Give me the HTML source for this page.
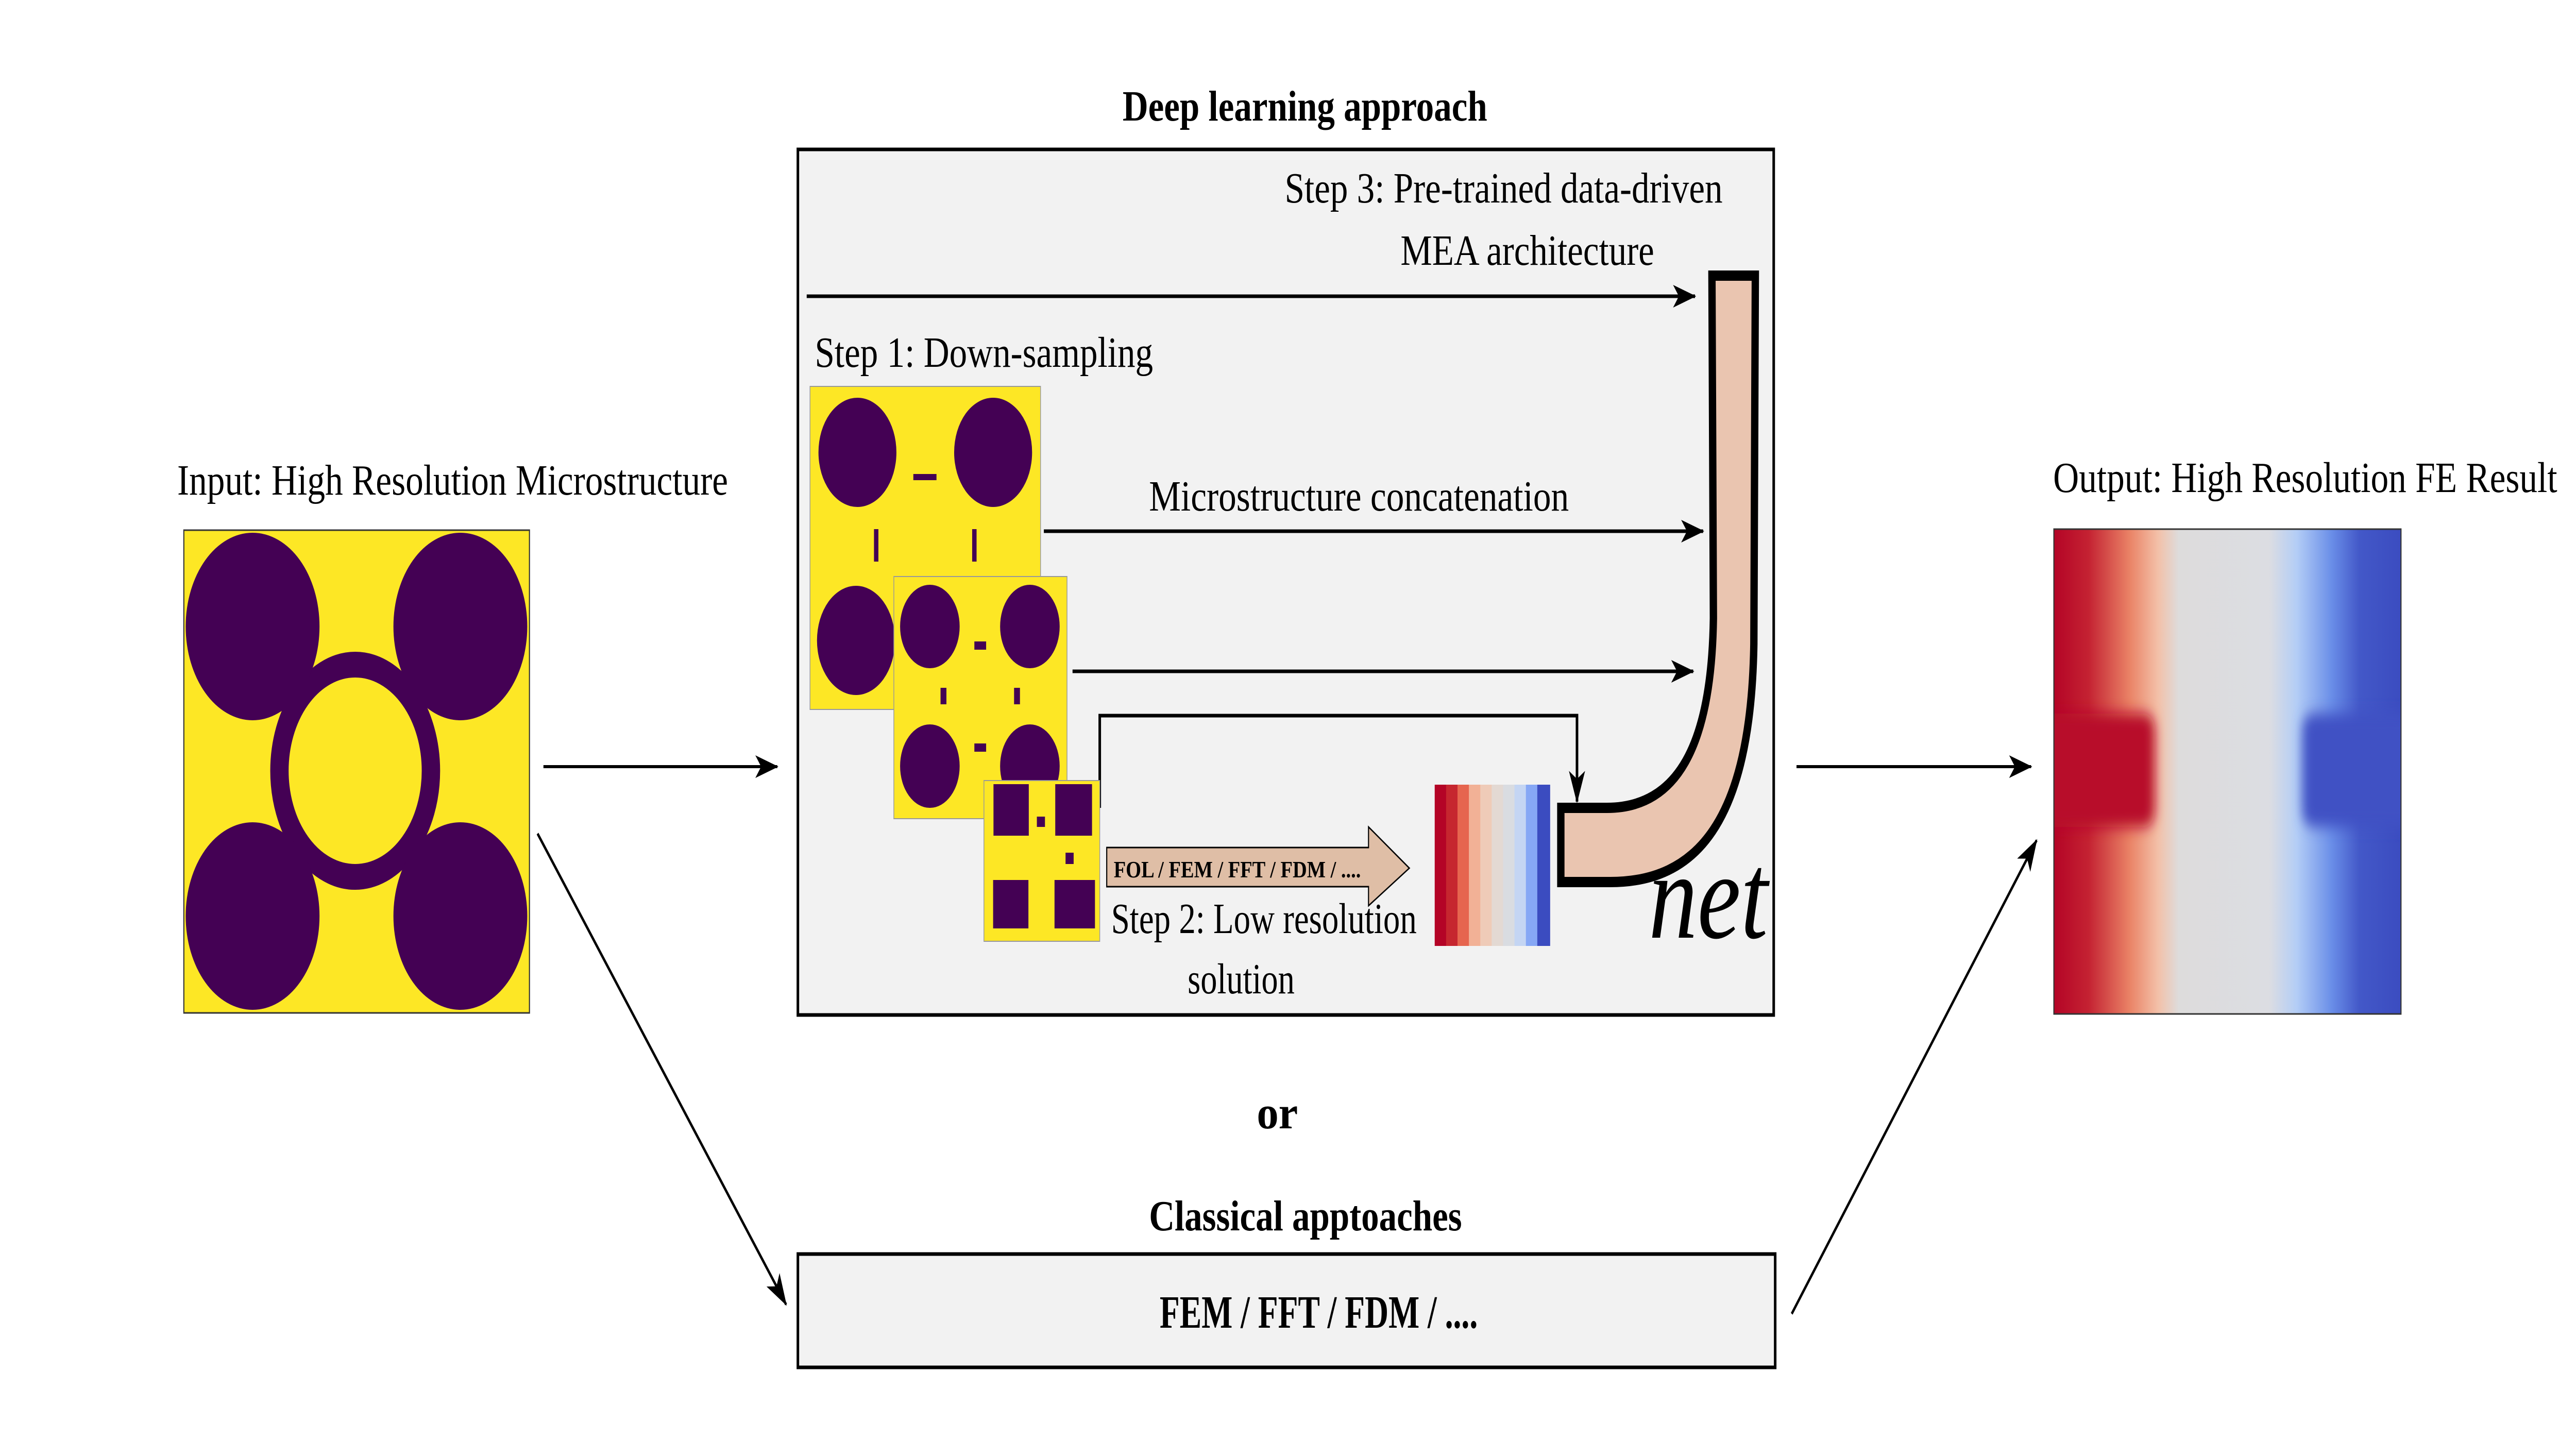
<!DOCTYPE html>
<html><head><meta charset="utf-8"><style>html,body{margin:0;padding:0;background:#fff;width:100%;height:100%;overflow:hidden}svg{display:block;position:absolute;left:0;top:0;width:100vw;height:100vh}</style></head><body>
<svg xmlns="http://www.w3.org/2000/svg" viewBox="0 0 7006 2826" preserveAspectRatio="none" font-family="Liberation Serif, serif">
<defs>
<marker id="ahb" viewBox="0 0 20 14" refX="19" refY="7" markerWidth="66" markerHeight="44" markerUnits="userSpaceOnUse" orient="auto">
<path d="M0,0 L20,7 L0,14 L5,7 Z" fill="#000"/></marker>
<linearGradient id="out" x1="0" y1="0" x2="1" y2="0">
<stop offset="0" stop-color="#b40426"/><stop offset="0.1" stop-color="#c42232"/><stop offset="0.22" stop-color="#ea8467"/><stop offset="0.3" stop-color="#f3c0a8"/><stop offset="0.36" stop-color="#dddcdc"/><stop offset="0.62" stop-color="#dcdde2"/><stop offset="0.7" stop-color="#b3cdf6"/><stop offset="0.8" stop-color="#6a8ee8"/><stop offset="0.88" stop-color="#4358c8"/><stop offset="1" stop-color="#3b4cc0"/></linearGradient>
<filter id="bl" x="-20%" y="-20%" width="140%" height="140%"><feGaussianBlur stdDeviation="14"/></filter>
<clipPath id="oc"><rect x="5586" y="1027" width="944" height="941"/></clipPath>
</defs>

<text x="3053" y="234" font-size="84" font-weight="bold" textLength="992" lengthAdjust="spacingAndGlyphs">Deep learning approach</text>

<rect x="2170" y="290" width="2654" height="1680" fill="#f2f2f2" stroke="#000" stroke-width="7"/>

<text x="3494" y="393" font-size="84" textLength="1191" lengthAdjust="spacingAndGlyphs">Step 3: Pre-trained data-driven</text>
<text x="3809" y="514" font-size="84" textLength="690" lengthAdjust="spacingAndGlyphs">MEA architecture</text>
<text x="2216" y="712" font-size="84" textLength="920" lengthAdjust="spacingAndGlyphs">Step 1: Down-sampling</text>
<text x="3125" y="991" font-size="84" textLength="1142" lengthAdjust="spacingAndGlyphs">Microstructure concatenation</text>

<line x1="2194" y1="575" x2="4610" y2="575" stroke="#000" stroke-width="7" marker-end="url(#ahb)"/>
<line x1="2839" y1="1031" x2="4632" y2="1031" stroke="#000" stroke-width="7" marker-end="url(#ahb)"/>
<line x1="2917" y1="1303" x2="4605" y2="1303" stroke="#000" stroke-width="7" marker-end="url(#ahb)"/>
<polyline points="2991,1568 2991,1389 4289,1389 4289,1556" fill="none" stroke="#000" stroke-width="7" marker-end="url(#ahb)"/>

<g>
<rect x="2203" y="750" width="627" height="627" fill="#fde725" stroke="#999" stroke-width="2"/>
<circle cx="2332" cy="878" r="106" fill="#440154"/>
<circle cx="2701" cy="878" r="106" fill="#440154"/>
<circle cx="2328" cy="1243" r="106" fill="#440154"/>
<rect x="2484" y="920" width="63" height="12" fill="#440154"/>
<rect x="2377" y="1027" width="12" height="63" fill="#440154"/>
<rect x="2644" y="1027" width="12" height="63" fill="#440154"/>
</g>
<g>
<rect x="2431" y="1119" width="471" height="470" fill="#fde725" stroke="#999" stroke-width="2"/>
<circle cx="2529" cy="1216" r="81" fill="#440154"/>
<circle cx="2801" cy="1216" r="81" fill="#440154"/>
<circle cx="2529" cy="1487" r="81" fill="#440154"/>
<circle cx="2801" cy="1487" r="81" fill="#440154"/>
<rect x="2650" y="1245" width="32" height="16" fill="#440154"/>
<rect x="2650" y="1443" width="32" height="16" fill="#440154"/>
<rect x="2558" y="1335" width="16" height="32" fill="#440154"/>
<rect x="2758" y="1335" width="16" height="32" fill="#440154"/>
</g>
<g>
<rect x="2676" y="1515" width="315" height="312" fill="#fde725" stroke="#999" stroke-width="2"/>
<rect x="2702" y="1522" width="96" height="100" fill="#440154"/>
<rect x="2870" y="1522" width="100" height="100" fill="#440154"/>
<rect x="2701" y="1708" width="96" height="94" fill="#440154"/>
<rect x="2868" y="1708" width="110" height="94" fill="#440154"/>
<rect x="2820" y="1585" width="22" height="20" fill="#440154"/>
<rect x="2898" y="1655" width="22" height="22" fill="#440154"/>
</g>

<path d="M3010,1645 L3722,1645 L3722,1605 L3833,1685 L3722,1758 L3722,1721 L3010,1721 Z" fill="#dfbea6" stroke="#000" stroke-width="3"/>
<text x="3029" y="1703" font-size="46" font-weight="bold" textLength="672" lengthAdjust="spacingAndGlyphs">FOL / FEM / FFT / FDM / ....</text>
<text x="3022" y="1811" font-size="84" textLength="831" lengthAdjust="spacingAndGlyphs">Step 2: Low resolution</text>
<text x="3230" y="1928" font-size="84" textLength="291" lengthAdjust="spacingAndGlyphs">solution</text>

<g>
<rect x="3902" y="1523" width="32" height="313" fill="#b40426"/>
<rect x="3933" y="1523" width="32" height="313" fill="#c6262f"/>
<rect x="3964" y="1523" width="32" height="313" fill="#e6654f"/>
<rect x="3995" y="1523" width="32" height="313" fill="#f2b196"/>
<rect x="4026" y="1523" width="32" height="313" fill="#efcbb8"/>
<rect x="4057" y="1523" width="32" height="313" fill="#e3d9d3"/>
<rect x="4088" y="1523" width="32" height="313" fill="#d9dce1"/>
<rect x="4119" y="1523" width="32" height="313" fill="#c4d5f3"/>
<rect x="4150" y="1523" width="32" height="313" fill="#86a7f5"/>
<rect x="4181" y="1523" width="35" height="313" fill="#3b4cc0"/>
</g>

<path d="M4656,535 L4774,535 L4770,1250 C4762,1600 4610,1712 4380,1712 L4245,1712 L4245,1568 L4370,1568 C4560,1568 4655,1450 4660,1200 Z" fill="#eac5b0" stroke="#000" stroke-width="20" stroke-linejoin="miter"/>
<text x="4484" y="1820" font-size="240" font-style="italic" textLength="324" lengthAdjust="spacingAndGlyphs">net</text>

<text x="482" y="960" font-size="84" textLength="1498" lengthAdjust="spacingAndGlyphs">Input: High Resolution Microstructure</text>
<g>
<rect x="500" y="1029" width="940" height="937" fill="#fde725" stroke="#333" stroke-width="3"/>
<circle cx="966" cy="1496" r="206" fill="none" stroke="#440154" stroke-width="50"/>
<circle cx="687" cy="1216" r="182" fill="#440154"/>
<circle cx="1252" cy="1216" r="182" fill="#440154"/>
<circle cx="687" cy="1778" r="182" fill="#440154"/>
<circle cx="1252" cy="1778" r="182" fill="#440154"/>
</g>

<text x="5584" y="955" font-size="84" textLength="1371" lengthAdjust="spacingAndGlyphs">Output: High Resolution FE Result</text>
<g clip-path="url(#oc)">
<rect x="5586" y="1027" width="944" height="941" fill="url(#out)"/>
<g filter="url(#bl)">
<rect x="5560" y="1385" width="300" height="220" rx="30" fill="#b8102a"/>
<rect x="6262" y="1385" width="300" height="220" rx="30" fill="#3f51c4"/>
</g>
</g>
<rect x="5586" y="1027" width="944" height="941" fill="none" stroke="#333" stroke-width="3"/>

<line x1="1478" y1="1488" x2="2114" y2="1488" stroke="#000" stroke-width="6" marker-end="url(#ahb)"/>
<line x1="4886" y1="1488" x2="5524" y2="1488" stroke="#000" stroke-width="6" marker-end="url(#ahb)"/>
<line x1="1462" y1="1618" x2="2138" y2="2532" stroke="#000" stroke-width="6" marker-end="url(#ahb)"/>
<line x1="4873" y1="2550" x2="5539" y2="1631" stroke="#000" stroke-width="6" marker-end="url(#ahb)"/>

<text x="3418" y="2190" font-size="90" font-weight="bold" textLength="112" lengthAdjust="spacingAndGlyphs">or</text>
<text x="3125" y="2388" font-size="84" font-weight="bold" textLength="851" lengthAdjust="spacingAndGlyphs">Classical apptoaches</text>
<rect x="2170" y="2434" width="2658" height="220" fill="#f2f2f2" stroke="#000" stroke-width="7"/>
<text x="3154" y="2577" font-size="90" font-weight="bold" textLength="865" lengthAdjust="spacingAndGlyphs">FEM / FFT / FDM / ....</text>
</svg>
</body></html>
